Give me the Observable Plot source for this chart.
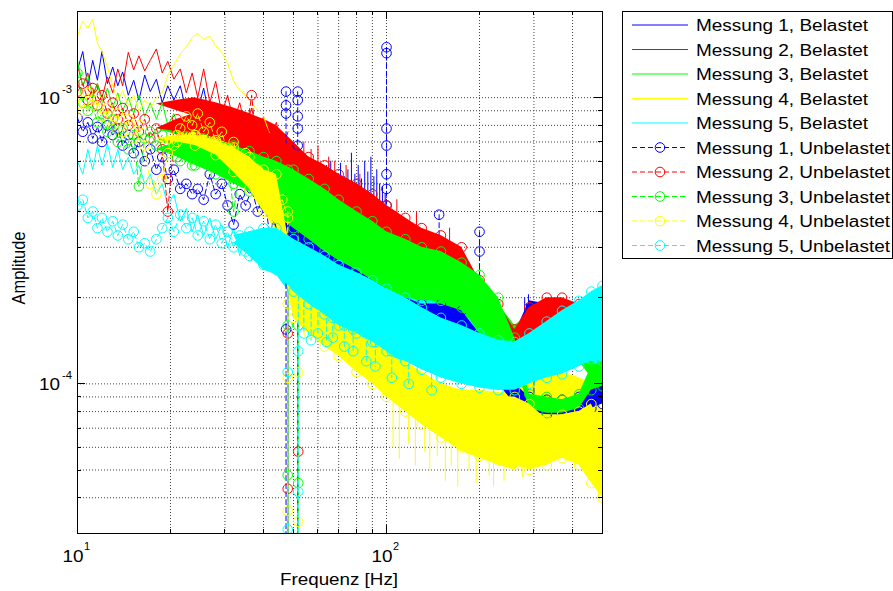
<!DOCTYPE html>
<html><head><meta charset="utf-8">
<script src="https://cdn.jsdelivr.net/npm/d3@7"></script>
<script src="https://cdn.jsdelivr.net/npm/@observablehq/plot@0.6"></script>
<style>body{margin:0;background:#fff;} svg{display:block;}</style>
</head><body><div id="chart"></div><script>
// ---------- DATA (amplitudes in units of 1e-4) ----------
const lineF = [10, 10.4, 10.8, 11.2, 11.6, 12, 12.5, 13, 13.5, 14, 14.6, 15.2, 15.8, 16.5, 17.2, 18, 18.8, 19.6, 20.5, 21.5, 22.5, 23.5, 24.5, 25.6, 26.8, 28, 29.3, 30.6, 32, 33.5, 35, 36.6, 38.3, 40, 42, 44, 46, 48];
const bandF = [18, 21, 24, 28, 32, 36, 40, 44, 50, 56, 63, 70, 80, 90, 100, 115, 130, 150, 175, 200, 230, 260, 290, 330, 370, 420, 460, 500];

const lineB1 = [12.5, 14.5, 11.0, 13.5, 11.5, 14.5, 11.2, 12.8, 11.0, 12.3, 10.2, 11.5, 9.8, 12.0, 10.5, 11.6, 9.6, 11.0, 9.8, 11.0, 9.0, 10.0, 9.0, 10.8, 8.4, 9.2, 7.8, 8.6, 6.5, 7.6, 6.0, 7.2, 5.8, 6.8, 5.6, 6.4, 5.2, 6.0];
const lineB2 = [13.0, 11.0, 12.2, 10.2, 11.2, 10.0, 11.8, 10.4, 12.6, 11.0, 14.4, 12.5, 14.0, 12.4, 13.5, 14.8, 12.2, 13.4, 11.6, 12.6, 10.4, 12.2, 10.0, 12.6, 9.6, 11.4, 8.8, 10.2, 8.2, 9.6, 7.8, 9.2, 7.4, 8.6, 7.0, 8.2, 6.6, 7.6];
const lineB3 = [13.5, 11.0, 12.0, 10.0, 11.2, 9.6, 10.8, 9.2, 10.4, 9.0, 10.0, 8.8, 10.2, 8.6, 9.6, 8.4, 9.6, 8.0, 8.8, 7.6, 8.6, 7.2, 8.2, 7.0, 7.8, 6.8, 7.4, 6.4, 7.0, 6.0, 6.8, 5.8, 6.4, 5.6, 6.2, 5.4, 5.8, 5.2];
const lineB4 = [16.5, 18.5, 17.5, 18.8, 15.5, 14.5, 12.8, 11.0, 9.8, 10.6, 9.4, 10.2, 9.0, 9.8, 9.2, 10.0, 10.4, 12.0, 13.0, 14.2, 15.0, 16.2, 16.8, 16.0, 16.4, 15.2, 14.4, 13.2, 11.4, 10.6, 10.2, 9.6, 9.0, 8.6, 7.4, 6.6, 6.0, 5.2];
const lineB5 = [6.0, 5.4, 6.6, 5.6, 6.8, 5.8, 6.9, 5.7, 6.6, 5.6, 6.2, 5.4, 5.8, 5.0, 5.4, 4.6, 5.0, 4.2, 4.6, 3.7, 4.1, 3.4, 3.9, 3.3, 3.8, 3.2, 3.6, 3.0, 3.5, 2.8, 3.4, 2.7, 3.3, 2.5, 3.2, 2.4, 3.1, 2.3];
const lineU1 = [8.5, 7.6, 8.2, 7.2, 7.9, 7.0, 8.0, 7.4, 7.8, 6.8, 7.4, 6.4, 7.0, 6.0, 6.6, 5.6, 6.2, 5.2, 5.6, 4.8, 5.0, 4.6, 4.8, 4.4, 5.4, 4.6, 5.0, 4.2, 3.6, 4.6, 4.2, 4.8, 4.0, 4.6, 3.3, 4.4, 5.0, 6.0];
const lineU2 = [10.5, 11.2, 9.8, 10.8, 9.4, 10.2, 8.8, 9.6, 8.4, 9.2, 8.0, 8.8, 7.6, 8.4, 7.2, 7.8, 6.6, 4.0, 7.0, 7.6, 6.6, 7.4, 6.4, 7.2, 6.2, 7.0, 6.0, 6.8, 6.0, 6.6, 7.2, 10.2, 6.4, 6.8, 5.8, 6.6, 6.0, 6.4];
const lineU3 = [12.2, 9.6, 9.0, 9.4, 8.2, 8.8, 7.6, 8.4, 7.0, 7.8, 6.6, 7.4, 4.9, 7.2, 7.6, 6.8, 7.4, 6.4, 7.0, 6.0, 6.8, 5.8, 6.4, 7.2, 6.0, 6.6, 5.6, 6.2, 4.0, 5.6, 6.2, 5.4, 6.0, 5.2, 5.8, 5.0, 5.2, 5.6];
const lineU4 = [10.0, 9.0, 10.4, 9.4, 9.8, 8.6, 9.2, 8.0, 8.8, 7.6, 8.4, 7.2, 8.0, 6.8, 5.0, 4.6, 5.2, 6.4, 6.8, 7.8, 8.6, 8.0, 8.8, 7.6, 8.2, 7.0, 7.6, 6.4, 7.0, 5.8, 6.4, 5.2, 5.6, 4.6, 5.0, 4.0, 4.4, 3.8];
const lineU5 = [4.2, 4.4, 3.8, 4.0, 3.5, 3.8, 3.4, 3.7, 3.3, 3.6, 3.2, 3.4, 3.0, 3.1, 2.9, 3.2, 3.5, 3.8, 3.4, 3.9, 3.5, 3.8, 3.3, 3.7, 3.2, 3.6, 3.1, 3.4, 3.0, 3.3, 2.9, 3.2, 2.8, 3.1, 2.7, 3.0, 2.6, 2.8];

const hiB1 = [9.0, 8.0, 7.5, 7.0, 6.5, 6.0, 5.8, 7.0, 6.5, 5.6, 5.0, 4.8, 4.6, 4.3, 3.9, 3.3, 2.8, 2.5, 2.2, 2.0, 1.75, 1.5, 1.95, 1.9, 1.85, 1.75, 1.6, 1.4];
const loB1 = [9.0, 8.0, 7.5, 7.0, 6.5, 6.0, 5.8, 4.2, 3.8, 3.4, 3.1, 2.9, 2.7, 2.6, 2.4, 2.1, 1.9, 1.65, 1.6, 1.5, 1.35, 1.25, 1.4, 1.45, 1.4, 1.3, 1.2, 1.05];
const hiB2 = [9.5, 9.8, 10.0, 9.6, 9.2, 8.8, 8.4, 8.0, 7.0, 6.2, 5.8, 5.4, 5.0, 4.6, 4.2, 3.8, 3.4, 3.1, 2.8, 2.3, 1.9, 1.55, 1.85, 1.95, 1.95, 1.85, 1.7, 1.5];
const loB2 = [9.5, 9.0, 8.6, 8.0, 7.3, 6.8, 6.2, 5.6, 4.8, 4.5, 4.2, 3.9, 3.6, 3.3, 3.0, 2.7, 2.4, 2.2, 2.0, 1.8, 1.55, 1.35, 1.45, 1.5, 1.5, 1.4, 1.3, 1.1];
const hiB3 = [7.8, 8.2, 8.6, 8.2, 7.8, 7.4, 7.0, 6.6, 6.0, 5.4, 5.0, 4.6, 4.2, 3.9, 3.5, 3.2, 3.0, 2.9, 2.6, 2.3, 1.9, 1.6, 1.75, 1.8, 1.8, 1.65, 1.45, 1.3];
const loB3 = [7.8, 7.4, 7.0, 6.4, 5.9, 5.4, 5.0, 4.4, 3.6, 3.3, 3.0, 2.8, 2.6, 2.4, 2.2, 2.0, 1.9, 1.8, 1.7, 1.6, 1.4, 1.3, 1.35, 1.4, 1.35, 1.2, 1.05, 0.95];
const hiB4 = [7.0, 7.4, 7.6, 7.3, 6.9, 6.4, 5.8, 5.2, 3.2, 2.6, 2.3, 2.1, 1.9, 1.6, 1.4, 1.2, 1.1, 1.0, 0.95, 0.95, 0.93, 0.95, 1.0, 1.05, 1.1, 1.05, 1.0, 0.8];
const loB4 = [7.0, 6.8, 6.5, 5.9, 5.3, 4.7, 4.0, 3.4, 2.0, 1.7, 1.55, 1.4, 1.25, 1.1, 0.95, 0.85, 0.75, 0.65, 0.58, 0.55, 0.52, 0.5, 0.56, 0.65, 0.75, 0.72, 0.6, 0.42];
const hiB5 = [3.6, 3.6, 3.5, 3.4, 3.3, 3.4, 3.4, 3.4, 3.3, 3.1, 2.9, 2.7, 2.5, 2.3, 2.2, 2.1, 2.0, 1.9, 1.75, 1.6, 1.45, 1.4, 1.5, 1.65, 1.75, 1.85, 1.95, 2.0];
const loB5 = [3.6, 3.6, 3.5, 3.4, 3.3, 2.8, 2.5, 2.4, 2.0, 1.8, 1.65, 1.55, 1.45, 1.35, 1.25, 1.2, 1.15, 1.05, 1.0, 0.97, 0.95, 0.95, 1.0, 1.05, 1.1, 1.15, 1.2, 1.1];
const hiU1 = [5.2, 5.0, 4.9, 4.7, 4.5, 4.4, 4.4, 5.0, 5.2, 4.6, 4.2, 3.8, 3.4, 3.1, 2.1, 2.0, 1.9, 1.9, 1.8, 1.5, 1.3, 1.0, 0.9, 0.88, 0.88, 0.9, 1.0, 1.1];
const loU1 = [5.2, 5.0, 4.9, 4.7, 4.5, 4.4, 4.4, 3.5, 3.2, 2.9, 2.6, 2.4, 2.2, 2.0, 1.85, 1.7, 1.6, 1.5, 1.45, 1.25, 1.0, 0.85, 0.8, 0.78, 0.78, 0.8, 0.82, 0.85];
const hiU2 = [7.8, 8.4, 8.8, 8.6, 8.3, 8.0, 7.6, 7.4, 6.6, 6.2, 5.8, 5.4, 5.0, 4.6, 4.2, 3.8, 3.5, 3.3, 3.0, 2.3, 1.9, 1.55, 1.85, 2.0, 2.0, 1.9, 1.75, 1.6];
const loU2 = [7.8, 7.6, 7.6, 7.2, 6.8, 6.3, 5.8, 5.2, 4.4, 4.0, 3.7, 3.4, 3.1, 2.9, 2.6, 2.4, 2.2, 2.1, 1.95, 1.75, 1.5, 1.3, 1.4, 1.45, 1.45, 1.4, 1.3, 1.2];
const hiU3 = [6.6, 7.0, 7.4, 7.1, 6.8, 6.5, 6.2, 6.0, 5.6, 5.2, 4.8, 4.4, 4.0, 3.7, 3.4, 3.2, 3.0, 2.9, 2.65, 2.4, 2.0, 1.45, 0.92, 0.9, 0.88, 0.92, 1.15, 1.2];
const loU3 = [6.6, 6.2, 5.8, 5.4, 5.0, 4.7, 4.3, 3.9, 3.5, 3.2, 2.9, 2.7, 2.5, 2.3, 2.15, 2.0, 1.95, 1.95, 1.85, 1.5, 1.42, 1.2, 0.82, 0.79, 0.79, 0.82, 0.95, 0.98];
const hiU4 = [7.2, 7.4, 7.4, 7.1, 6.7, 6.2, 5.6, 5.4, 2.6, 2.2, 2.0, 1.85, 1.6, 1.45, 1.3, 1.15, 1.05, 0.98, 0.92, 0.9, 0.9, 0.9, 0.85, 0.75, 0.78, 0.8, 0.85, 0.7];
const loU4 = [7.2, 7.0, 6.8, 6.3, 5.5, 4.8, 4.0, 3.6, 1.7, 1.5, 1.35, 1.25, 1.1, 1.0, 0.9, 0.8, 0.72, 0.65, 0.6, 0.56, 0.54, 0.52, 0.5, 0.52, 0.55, 0.52, 0.45, 0.4];
const hiU5 = [3.3, 3.5, 3.4, 3.3, 3.1, 3.4, 3.5, 3.5, 3.2, 3.0, 2.8, 2.6, 2.45, 2.3, 2.15, 2.0, 1.85, 1.7, 1.6, 1.5, 1.42, 1.4, 1.5, 1.65, 1.8, 1.95, 2.1, 2.2];
const loU5 = [3.3, 3.5, 3.4, 3.3, 3.1, 2.8, 2.6, 2.5, 2.1, 1.9, 1.75, 1.6, 1.5, 1.4, 1.3, 1.2, 1.12, 1.05, 1.0, 0.97, 0.95, 0.95, 1.0, 1.05, 1.08, 1.15, 1.22, 1.2];

// spikes: [frequency, successive amplitudes at that frequency]
const spikesB1 = [[47.9, 5.0, 0.2], [51.8, 6.0, 0.2], [58, 5.4, 4.0], [62, 5.2, 4.0], [64, 5.8, 4.2], [66, 6.0, 4.2], [69, 5.4, 4.0], [71, 5.9, 4.0], [73, 5.3, 4.0], [75, 5.6, 4.0], [77, 6.4, 4.5], [79, 5.4, 4.0], [81, 5.8, 4.0], [83, 5.2, 3.8], [85, 6.0, 4.2], [87, 5.5, 4.0], [89, 6.2, 4.0], [91, 5.3, 3.8], [93, 5.6, 3.8], [95, 5.0, 3.6], [97, 4.9, 3.4], [99, 4.6, 3.4], [280, 2.0, 1.5], [284, 1.9, 1.5], [288, 2.05, 1.4]];
const spikesB2 = [[47.9, 6.0, 0.2], [51.8, 6.5, 0.2], [54, 7.0, 5.0], [57, 6.6, 5.0], [60, 6.8, 4.8], [65, 6.2, 4.6], [68, 6.0, 4.4], [74, 5.8, 4.2], [82, 5.4, 4.0], [95, 4.8, 3.6], [108, 4.4, 3.4], [125, 4.0, 3.2], [160, 3.5, 2.8]];
const spikesB3 = [[47.9, 5.0, 0.2], [51.8, 5.0, 0.2]];
const spikesB4 = [[47.9, 4.0, 0.2], [51.8, 3.0, 0.2], [105, 1.2, 0.6], [110, 1.1, 0.55], [118, 1.1, 0.62], [124, 1.0, 0.52], [133, 1.0, 0.58], [138, 1.0, 0.5], [146, 0.95, 0.56], [155, 0.95, 0.46], [162, 0.9, 0.52], [170, 0.9, 0.44], [185, 0.9, 0.5], [195, 0.9, 0.45], [215, 0.85, 0.48], [222, 0.85, 0.44], [240, 0.85, 0.46], [250, 0.85, 0.5], [275, 0.9, 0.47], [310, 1.0, 0.55], [320, 1.0, 0.6], [350, 1.0, 0.62], [395, 1.0, 0.6], [430, 1.0, 0.58], [445, 0.95, 0.5], [470, 0.9, 0.44], [485, 0.85, 0.4]];
const spikesB5 = [[47.9, 3.0, 0.2], [51.8, 2.8, 0.2]];
const spikesU1 = [[47.3, 10.5, 9.4, 8.8, 1.55, 0.2], [51.6, 10.5, 9.8, 8.6, 7.8, 6.8, 5.8, 1.75, 0.2], [100, 15.0, 14.3, 7.8, 6.8, 5.4, 4.8, 4.2, 3.8], [148, 3.9, 3.1, 2.4], [200, 3.4, 2.9, 2.0], [300, 1.1, 0.57]];
const spikesU2 = [[47.9, 6.0, 1.5, 0.43, 0.2], [51.8, 6.2, 1.9, 0.58, 0.2]];
const spikesU3 = [[47.9, 4.0, 1.6, 0.48, 0.2], [51.8, 4.0, 1.6, 0.45, 0.2]];
const spikesU4 = [[47.9, 4.0, 1.9, 1.05, 0.36, 0.2], [51.8, 3.0, 1.1, 0.33, 0.2]];
const spikesU5 = [[47.9, 3.0, 1.1, 0.31, 0.2], [51.8, 2.8, 1.3, 0.42, 0.2], [54, 2.2, 1.5], [57, 2.0, 1.42], [60, 1.9, 1.5], [64, 1.8, 1.4], [67, 1.7, 1.45], [73, 1.6, 1.35], [78, 1.55, 1.3], [86, 1.5, 1.2], [92, 1.4, 1.15], [104, 1.3, 1.05], [118, 1.25, 1.0], [140, 1.15, 0.95]];

const legendNames = ["Messung 1, Belastet", "Messung 2, Belastet", "Messung 3, Belastet", "Messung 4, Belastet", "Messung 5, Belastet",
  "Messung 1, Unbelastet", "Messung 2, Unbelastet", "Messung 3, Unbelastet", "Messung 4, Unbelastet", "Messung 5, Unbelastet"];
const colors = ["#0000ff", "#ff0000", "#00ff00", "#ffff00", "#00ffff"];
const xTickVals = [10, 100];
const xTickExp = ["1", "2"];
const yTickVals = [1e-3, 1e-4];
const yTickExp = ["-3", "-4"];
const xGrid = [20, 30, 40, 50, 60, 70, 80, 90, 100, 200, 300, 400];
const yGrid = [4e-5, 5e-5, 6e-5, 7e-5, 8e-5, 9e-5, 1e-4, 2e-4, 3e-4, 4e-4, 5e-4, 6e-4, 7e-4, 8e-4, 9e-4, 1e-3];

// ---------- BUILD ----------
const U = 1e-4;
const lines = [lineB1, lineB2, lineB3, lineB4, lineB5, lineU1, lineU2, lineU3, lineU4, lineU5];
const his = [hiB1, hiB2, hiB3, hiB4, hiB5, hiU1, hiU2, hiU3, hiU4, hiU5];
const los = [loB1, loB2, loB3, loB4, loB5, loU1, loU2, loU3, loU4, loU5];
const spikes = [spikesB1, spikesB2, spikesB3, spikesB4, spikesB5, spikesU1, spikesU2, spikesU3, spikesU4, spikesU5];

const FONT = "'Liberation Sans', Arial, Helvetica, sans-serif";
const marks = [
  Plot.ruleX(xGrid, {stroke: "#444", strokeDasharray: "1,2", strokeWidth: 1}),
  Plot.ruleY(yGrid, {stroke: "#444", strokeDasharray: "1,2", strokeWidth: 1})
];
for (let s = 0; s < 10; s++) {
  const color = colors[s % 5];
  const unl = s >= 5;
  const dash = unl ? "5,3" : null;
  const band = bandF.map((f, i) => ({f, hi: his[s][i] * U, lo: los[s][i] * U}));
  const line = lineF.map((f, i) => ({f, v: lines[s][i] * U}));
  const sp = [];
  spikes[s].forEach((row, j) => row.slice(1).forEach(v => sp.push({f: row[0], v: v * U, id: j})));
  marks.push(Plot.areaY(band, {x: "f", y1: "lo", y2: "hi", fill: color, clip: true}));
  marks.push(Plot.line(line, {x: "f", y: "v", stroke: color, strokeWidth: 1, strokeDasharray: dash, clip: true}));
  marks.push(Plot.line(sp, {x: "f", y: "v", z: "id", stroke: color, strokeWidth: 1, strokeDasharray: dash, clip: true}));
  if (unl) {
    const edge = band.filter(d => d.hi > d.lo);
    const pts = [...line, ...edge.map(d => ({f: d.f, v: d.hi})), ...edge.map(d => ({f: d.f, v: d.lo})), ...sp];
    marks.push(Plot.dot(pts, {x: "f", y: "v", r: 4.8, stroke: color, fill: "none", strokeWidth: 1, clip: true}));
  }
}
marks.push(Plot.frame({stroke: "black"}));

const chart = Plot.plot({
  width: 893, height: 591,
  marginLeft: 77, marginRight: 291, marginTop: 11, marginBottom: 58,
  x: {type: "log", domain: [10, 500], axis: null},
  y: {type: "log", domain: [3e-5, 2e-3], axis: null},
  style: {background: "white", fontFamily: FONT},
  marks
});
document.getElementById("chart").appendChild(chart);

// ---------- axes decorations, labels, legend ----------
const svg = d3.select(chart);
const X = v => chart.scale("x").apply(v);
const Y = v => chart.scale("y").apply(v);
const L = 77, R = 602, T = 11, B = 533;
const g = svg.append("g").attr("font-family", FONT).attr("fill", "black").attr("text-anchor", "start");
const tk = g.append("g").attr("stroke", "black").attr("stroke-width", 1);
for (const v of [10, ...xGrid]) {
  const len = xTickVals.includes(v) ? 8 : 4;
  const x = Math.round(X(v)) + 0.5;
  tk.append("line").attr("x1", x).attr("x2", x).attr("y1", B).attr("y2", B - len);
  tk.append("line").attr("x1", x).attr("x2", x).attr("y1", T).attr("y2", T + len);
}
for (const v of yGrid) {
  const len = yTickVals.includes(v) ? 8 : 4;
  const y = Math.round(Y(v)) + 0.5;
  tk.append("line").attr("x1", L).attr("x2", L + len).attr("y1", y).attr("y2", y);
  tk.append("line").attr("x1", R).attr("x2", R - len).attr("y1", y).attr("y2", y);
}
xTickVals.forEach((v, i) => {
  const x = X(v);
  g.append("text").attr("x", x - 4).attr("y", 562).attr("text-anchor", "middle").attr("font-size", 16)
    .attr("textLength", 21).attr("lengthAdjust", "spacingAndGlyphs").text("10");
  g.append("text").attr("x", x + 7).attr("y", 550).attr("text-anchor", "start").attr("font-size", 11).text(xTickExp[i]);
});
yTickVals.forEach((v, i) => {
  const y = Y(v);
  g.append("text").attr("x", 60).attr("y", y + 6.5).attr("text-anchor", "end").attr("font-size", 16)
    .attr("textLength", 21).attr("lengthAdjust", "spacingAndGlyphs").text("10");
  g.append("text").attr("x", 62).attr("y", y - 4).attr("text-anchor", "start").attr("font-size", 11)
    .attr("textLength", 10).attr("lengthAdjust", "spacingAndGlyphs").text(yTickExp[i]);
});
g.append("text").attr("x", 339).attr("y", 585).attr("text-anchor", "middle").attr("font-size", 16)
  .attr("textLength", 118).attr("lengthAdjust", "spacingAndGlyphs").text("Frequenz [Hz]");
g.append("text").attr("transform", "translate(25,268) rotate(-90) scale(1,1.2)").attr("text-anchor", "middle")
  .attr("font-size", 16).attr("textLength", 73).attr("lengthAdjust", "spacingAndGlyphs").text("Amplitude");

const lg = g.append("g");
lg.append("rect").attr("x", 622.5).attr("y", 11.5).attr("width", 270).attr("height", 247)
  .attr("fill", "white").attr("stroke", "black").attr("stroke-width", 1);
legendNames.forEach((name, i) => {
  const y = 25 + 24.5 * i;
  const c = colors[i % 5];
  const unl = i >= 5;
  lg.append("line").attr("x1", 632).attr("x2", 688).attr("y1", y).attr("y2", y)
    .attr("stroke", c).attr("stroke-width", 1).attr("stroke-dasharray", unl ? "5,3" : null);
  if (unl) lg.append("circle").attr("cx", 660).attr("cy", y).attr("r", 4.8).attr("fill", "none").attr("stroke", c);
  lg.append("text").attr("x", 696).attr("y", y + 6).attr("text-anchor", "start").attr("font-size", 16)
    .attr("textLength", unl ? 194 : 172).attr("lengthAdjust", "spacingAndGlyphs").text(name);
});
</script></body></html>
